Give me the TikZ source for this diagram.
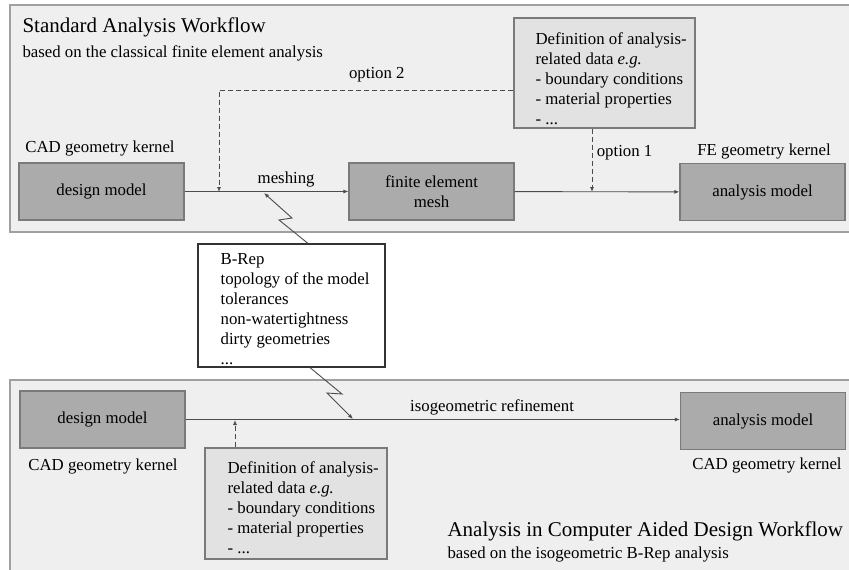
\documentclass[tikz,border=0pt]{standalone}
\usepackage{fontspec}
\setmainfont{Liberation Serif}
\usetikzlibrary{arrows.meta}

\definecolor{panelfill}{HTML}{EFEFEF}
\definecolor{paneldraw}{HTML}{A0A0A0}
\definecolor{modelfill}{HTML}{ABABAB}
\definecolor{modeldraw}{HTML}{7A7A7A}
\definecolor{datafill}{HTML}{E2E2E2}

\tikzset{
  model/.style={draw=modeldraw, fill=modelfill, line width=1.2pt,
    minimum width=165pt, minimum height=57pt, align=center},
  databox/.style={draw=modeldraw, fill=datafill, line width=1.2pt,
    minimum width=181pt, minimum height=110pt},
  listing/.style={anchor=west, align=left, inner sep=0pt},
  flow/.style={draw=black!70, line width=0.9pt, -{Latex[length=5pt,width=4pt]}},
  dashflow/.style={flow, dashed, dash pattern=on 5pt off 3pt}
}

\begin{document}
\begin{tikzpicture}[x=1pt, y=-1pt, font=\fontsize{16.8}{20}\selectfont]

        \useasboundingbox (0,0) rectangle (849,570);

        % the two workflow panels
        \path[fill=panelfill, draw=paneldraw, line width=1.2pt] (10,5) rectangle (860,232);
        \path[fill=panelfill, draw=paneldraw, line width=1.2pt] (10,380) rectangle (860,580);

        \node[anchor=west, font=\fontsize{21}{24}\selectfont] (title1) at (19,27.5) {Standard Analysis Workflow};
        \node[anchor=west] (sub1) at (19,53) {based on the classical finite element analysis};

        \node[anchor=west, font=\fontsize{21}{24}\selectfont] (title2) at (444,531) {Analysis in Computer Aided Design Workflow};
        \node[anchor=west] (sub2) at (444,554) {based on the isogeometric B-Rep analysis};

        % standard workflow
        \begin{scope}[every node/.style={model}]
          \node (dm1) at (101.5,191.5) {design model};
          \node (fem) at (431.5,191.5) {finite element\\mesh};
          \node (am1) at (762.5,192)   {analysis model};
        \end{scope}

        \node (cad1) at (100,148) {CAD geometry kernel};
        \node (fek)  at (764,151) {FE geometry kernel};

        \node[databox] (def1) at (604.5,73) {};
        \node[listing] (def1txt) at ([xshift=22pt,yshift=-6pt]def1.west)
          {Definition of analysis-\\related data \textit{e.g.}\\- boundary conditions\\- material properties\\- ...};

        \coordinate (opt2) at (219,192);
        \coordinate (opt1) at (592,192);

        \draw[flow] (dm1) -- node[above=1pt, pos=0.62] (mesh) {meshing} (fem);
        \draw[flow] (fem) -- (am1);
        \draw[dashflow] ([yshift=-17pt]def1.west) -| node[pos=0.232, above=4pt] (o2) {option 2} (opt2);
        \draw[dashflow] (def1.south -| opt1) -- node[right=1pt, pos=0.38] (o1) {option 1} (opt1);

        % B-Rep properties
        \node[draw=black!80, fill=white, line width=1.2pt, minimum width=187pt,
              minimum height=123pt] (brep) at (291.5,305.5) {};
        \node[listing] (breptxt) at ([xshift=23pt,yshift=-4pt]brep.west)
          {B-Rep\\topology of the model\\tolerances\\non-watertightness\\dirty geometries\\...};

        \coordinate (bolt1) at (264,193);
        \coordinate (bolt2) at (353,419);

        \draw[flow] (brep.north -| 308,0) -- (279,220) -- (292,218) -- (bolt1);
        \draw[flow] (brep.south -| 310,0) -- (342,394) -- (327,393) -- (bolt2);

        % isogeometric workflow
        \begin{scope}[every node/.style={model}]
          \node (dm2) at (102.5,419.5) {design model};
          \node (am2) at (763,421)     {analysis model};
        \end{scope}

        \node (cad2) at (103,466) {CAD geometry kernel};
        \node (cad3) at (767,465) {CAD geometry kernel};

        \node[databox, minimum width=182pt, minimum height=111pt] (def2) at (296,503.5) {};
        \node[listing] (def2txt) at ([xshift=23pt,yshift=-4pt]def2.west)
          {Definition of analysis-\\related data \textit{e.g.}\\- boundary conditions\\- material properties\\- ...};

        \coordinate (ref) at (235,420);

        \draw[flow] (dm2.east) -- node[above=1pt, pos=0.62] (iso) {isogeometric refinement} (dm2.east -| am2.west);
        \draw[dashflow] (def2.north -| ref) -- (ref);

      \end{tikzpicture}
\end{document}
